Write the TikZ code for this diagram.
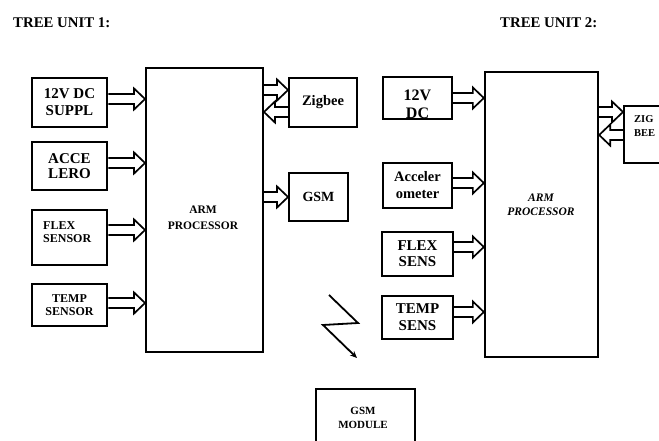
\documentclass[tikz,border=0pt]{standalone}
\usepackage{fontspec}
\setmainfont{Liberation Serif}
\usetikzlibrary{calc,arrows.meta}
\newcommand\fs[2]{\fontsize{#1}{#2}\selectfont\bfseries}
% hollow block arrow: from anchor #1 to anchor #2 at image-y #3, head length #4 (negative = pointing left)
\newcommand\harr[4]{\draw[blockarrow] let \p1=(#1),\p2=(#2),\p3=(0,#3) in
 (\x1,{\y3+5pt}) -- ({\x2-(#4)*1pt},{\y3+5pt}) -- ({\x2-(#4)*1pt},{\y3+10.5pt}) -- (\x2,\y3)
 -- ({\x2-(#4)*1pt},{\y3-10.5pt}) -- ({\x2-(#4)*1pt},{\y3-5pt}) -- (\x1,{\y3-5pt});}
\begin{document}
\begin{tikzpicture}[x=1pt,y=-1pt,
  box/.style={draw, line width=1.9pt, inner sep=0pt, align=center},
  sbox/.style={box, line width=2.7pt},
  rbox/.style={box, line width=2.3pt},
  lbl/.style={inner sep=0pt, align=center},
  blockarrow/.style={draw, line width=1.7pt, line join=miter}]
\clip (0,0) rectangle (659,441);
\fill[white] (0,0) rectangle (659,441);

% titles
\node[lbl, anchor=west, font=\fs{14.8}{17}] (t1) at (13,23) {TREE UNIT 1:};
\node[lbl, anchor=west, font=\fs{14.8}{17}] (t2) at (500,23) {TREE UNIT 2:};

% unit 1
\node[sbox, minimum width=75pt, minimum height=49pt, font=\fs{15}{17}] (s1) at (69.5,102.5) {12V DC\\SUPPL};
\node[sbox, minimum width=75pt, minimum height=48pt, font=\fs{15}{15}] (s2) at (69.5,166) {ACCE\\LERO};
\node[sbox, minimum width=75pt, minimum height=55pt] (s3) at (69.5,237.5) {};
\node[lbl, align=left, anchor=west, font=\fs{12}{12.5}] (s3t) at (43,232) {FLEX\\SENSOR};
\node[sbox, minimum width=75pt, minimum height=42pt, font=\fs{12}{13}] (s4) at (69.5,305) {TEMP\\SENSOR};

\node[box, minimum width=117pt, minimum height=284pt] (arm1) at (204.5,210) {};
\node[lbl, font=\fs{11.5}{16}] (arm1t) at (203,218) {ARM\\PROCESSOR};

\node[box, minimum width=68pt, minimum height=49pt, font=\fs{14.5}{16}] (zig1) at (323,102.5) {Zigbee};
\node[box, minimum width=59pt, minimum height=48pt, font=\fs{14}{16}] (gsm1) at (318.5,197) {GSM};

\harr{s1.east}{arm1.west}{99}{11}
\harr{s2.east}{arm1.west}{163}{11}
\harr{s3.east}{arm1.west}{230}{11}
\harr{s4.east}{arm1.west}{303}{11}
\harr{arm1.east}{zig1.west}{90}{11}
\harr{zig1.west}{arm1.east}{112}{-11}
\harr{arm1.east}{gsm1.west}{197}{11}

% unit 2
\node[rbox, minimum width=69pt, minimum height=42pt,
  path picture={\node[lbl, font=\fs{16}{18}] at ([yshift=-6pt]path picture bounding box.center) {12V\\DC};}] (r1) at (417.5,98) {};
\node[rbox, minimum width=69pt, minimum height=45pt, font=\fs{14.5}{17}] (r2) at (417.5,185.5) {Acceler\\ometer};
\node[rbox, minimum width=71pt, minimum height=44pt, font=\fs{15}{16}] (r3) at (417.5,254) {FLEX\\SENS};
\node[rbox, minimum width=71pt, minimum height=43pt, font=\fs{15}{17}] (r4) at (417.5,317.5) {TEMP\\SENS};

\node[rbox, minimum width=113pt, minimum height=285pt] (arm2) at (541.5,214.5) {};
\node[lbl, font=\fs{11.5}{14}\itshape] (arm2t) at (541,205) {ARM\\PROCESSOR};

\node[rbox, minimum width=60pt, minimum height=57pt, anchor=north west] (zig2) at (623,105) {};
\node[lbl, align=left, anchor=west, font=\fs{10.5}{14}] (zig2t) at (634,126) {ZIG\\BEE};

\node[rbox, minimum width=99pt, minimum height=70pt, anchor=north west] (gsmm) at (315,388) {};
\node[lbl, font=\fs{11}{14}] (gsmmt) at (363,418) {GSM\\MODULE};

\harr{r1.east}{arm2.west}{98}{11}
\harr{r2.east}{arm2.west}{183}{11}
\harr{r3.east}{arm2.west}{247}{11}
\harr{r4.east}{arm2.west}{312}{11}
\harr{arm2.east}{zig2.west}{112}{11}
\harr{zig2.west}{arm2.east}{135}{-11}

% wireless link symbol
\draw[line width=1.8pt, line join=miter, -{Stealth[length=7pt,width=6pt]}] (329,295) -- (358,323) -- (323,325) -- (357,358);
\end{tikzpicture}
\end{document}
